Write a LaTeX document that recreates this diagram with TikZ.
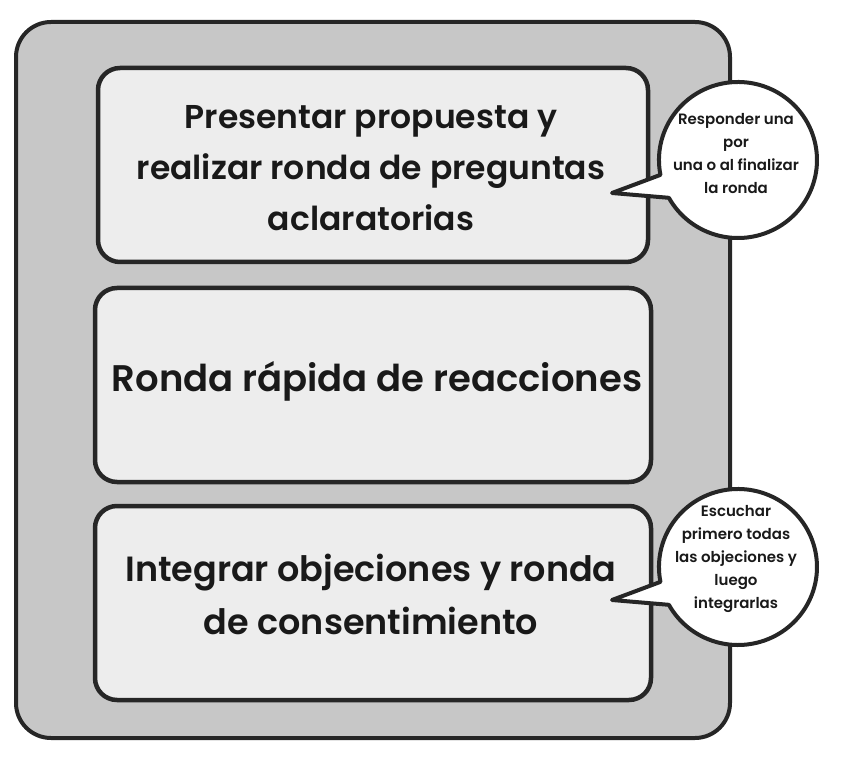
\documentclass[tikz,border=0pt]{standalone}
\usepackage{fontspec}
\setmainfont{Poppins}[BoldFont={* SemiBold}]
\begin{document}
\begin{tikzpicture}[x=1pt,y=-1pt,line join=round,
  mainbox/.style={draw=black!85,line width=4.5pt,fill=black!7,rounded corners=22pt},
  maintext/.style={font=\bfseries\fontsize{33}{51}\selectfont,align=center,text=black!90},
  bubtext/.style={font=\bfseries\fontsize{15}{23}\selectfont,align=center,text=black!90},
  bubble/.style={draw=black!85,line width=4pt,fill=white}]
\useasboundingbox (0,0) rectangle (844,767);
\draw[draw=black!85,line width=4pt,fill=black!22,rounded corners=35pt] (16,22) rectangle (730,738);
\draw[mainbox] (98,68) rectangle (648,262);
\draw[mainbox] (95,288) rectangle (651,482);
\draw[mainbox] (95,506) rectangle (651,700);
\node[maintext] (t1) at (371,168) {Presentar propuesta y\\realizar ronda de preguntas\\aclaratorias};
\node[maintext,font=\bfseries\fontsize{37}{51}\selectfont] (t2) at (377,381) {Ronda rápida de reacciones};
\node[maintext,font=\bfseries\fontsize{35}{53}\selectfont] (t3) at (371,594) {Integrar objeciones y ronda\\de consentimiento};
\coordinate (c1) at (737,160);
\coordinate (k1) at (612,193);
\draw[bubble] (k1) -- ([shift={(169:78)}]c1) arc[start angle=169,end angle=511,x radius=79,y radius=78] -- cycle;
\node[bubtext] (b1) at (736,154) {Responder una\\por\\una o al finalizar\\la ronda};
\coordinate (c2) at (737,567);
\coordinate (k2) at (612,600);
\draw[bubble] (k2) -- ([shift={(169:78)}]c2) arc[start angle=169,end angle=511,x radius=79,y radius=78] -- cycle;
\node[bubtext] (b2) at (736,559) {Escuchar\\primero todas\\las objeciones y\\luego\\integrarlas};
\end{tikzpicture}
\end{document}
